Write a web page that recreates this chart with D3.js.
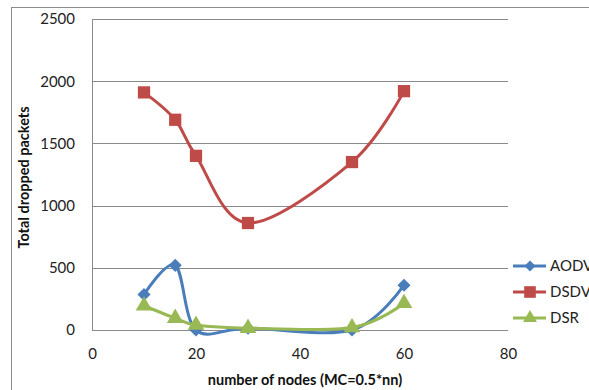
<!DOCTYPE html>
<html>
<head>
<meta charset="utf-8">
<script src="https://cdn.jsdelivr.net/npm/d3@7"></script>
<style>
  html, body { margin: 0; padding: 0; background: #fff; }
  svg { display: block; font-family: Lato, "Open Sans", sans-serif; }
</style>
</head>
<body>
<svg id="chart" width="589" height="390"></svg>
<script>
// Number of nodes on the x axis
const nodes = [10, 16, 20, 30, 50, 60];
// Total dropped packets per protocol
const aodv = [285, 520, 0, 15, 0, 360];
const dsdv = [1910, 1690, 1400, 860, 1350, 1920];
const dsr  = [195, 95, 40, 15, 20, 215];
const seriesNames = ["AODV", "DSDV", "DSR"];
const xTicks = [0, 20, 40, 60, 80];
const yTicks = [0, 500, 1000, 1500, 2000, 2500];

const colors = { AODV: "#4A7EBB", DSDV: "#BE4B48", DSR: "#98B954" };
const symbols = { AODV: d3.symbolDiamond2, DSDV: d3.symbolSquare, DSR: d3.symbolTriangle };
const symSize = { AODV: 110, DSDV: 150, DSR: 120 };

const svg = d3.select("#chart");

// Chart frame
svg.append("rect")
  .attr("x", 11.5).attr("y", 7.5)
  .attr("width", 600).attr("height", 400)
  .attr("fill", "none").attr("stroke", "#8c8c8c").attr("stroke-width", 1);

const x = d3.scaleLinear().domain([0, 80]).range([92, 508]);
const y = d3.scaleLinear().domain([0, 2500]).range([330, 19]);

// Horizontal gridlines
svg.append("g")
  .selectAll("line")
  .data(yTicks)
  .join("line")
  .attr("x1", x(0)).attr("x2", x(80))
  .attr("y1", d => Math.round(y(d)) + 0.5).attr("y2", d => Math.round(y(d)) + 0.5)
  .attr("stroke", "#8a8a8a").attr("stroke-width", 1);

// Y axis line
svg.append("line")
  .attr("x1", x(0) + 0.5).attr("x2", x(0) + 0.5)
  .attr("y1", y(2500)).attr("y2", y(0))
  .attr("stroke", "#8a8a8a");

// Y tick labels
const yAxis = d3.axisLeft(y).tickValues(yTicks).tickSize(0).tickPadding(17).tickFormat(d3.format("d"));
svg.append("g")
  .attr("transform", `translate(${x(0)},0)`)
  .call(yAxis)
  .call(g => g.select(".domain").remove())
  .selectAll("text")
  .attr("font-family", "Lato, 'Open Sans', sans-serif")
  .attr("font-size", 15).attr("fill", "#222");

// X tick labels
const xAxis = d3.axisBottom(x).tickValues(xTicks).tickSize(0).tickPadding(18).tickFormat(d3.format("d"));
svg.append("g")
  .attr("transform", `translate(0,${y(0)})`)
  .call(xAxis)
  .call(g => g.select(".domain").remove())
  .selectAll("text")
  .attr("font-family", "Lato, 'Open Sans', sans-serif")
  .attr("font-size", 15).attr("fill", "#222");

// Axis titles
svg.append("text")
  .attr("transform", `translate(29,${(y(0) + y(2500)) / 2 + 3}) rotate(-90)`)
  .attr("text-anchor", "middle")
  .attr("font-weight", "bold").attr("font-size", 14.5).attr("fill", "#111")
  .text("Total dropped packets");

svg.append("text")
  .attr("x", 305).attr("y", 385)
  .attr("text-anchor", "middle")
  .attr("font-weight", "bold").attr("font-size", 14.5).attr("fill", "#111")
  .text("number of nodes (MC=0.5*nn)");

// Series
const data = { AODV: aodv, DSDV: dsdv, DSR: dsr };
const line = d3.line()
  .x(d => x(d[0])).y(d => y(d[1]))
  .curve(d3.curveCardinal.tension(0));

const plot = svg.append("g");
["DSDV", "AODV", "DSR"].forEach(name => {
  const pts = nodes.map((n, i) => [n, data[name][i]]);
  plot.append("path")
    .datum(pts)
    .attr("d", line)
    .attr("fill", "none")
    .attr("stroke", colors[name]).attr("stroke-width", 3)
    .attr("stroke-linejoin", "round");
  plot.selectAll(null)
    .data(pts)
    .join("path")
    .attr("transform", d => `translate(${x(d[0])},${y(d[1])})`)
    .attr("d", d3.symbol().type(symbols[name]).size(symSize[name]))
    .attr("fill", colors[name]);
});

// Legend
const legend = svg.append("g");
const legendY = [266, 292, 318];
seriesNames.forEach((name, i) => {
  const g = legend.append("g").attr("transform", `translate(0,${legendY[i]})`);
  g.append("line")
    .attr("x1", 513).attr("x2", 546)
    .attr("stroke", colors[name]).attr("stroke-width", 3);
  g.append("path")
    .attr("transform", "translate(530,0)")
    .attr("d", d3.symbol().type(symbols[name]).size(symSize[name] * (name === "DSDV" ? 0.9 : 0.7)))
    .attr("fill", colors[name]);
  g.append("text")
    .attr("x", 550).attr("y", 5)
    .attr("font-size", 15).attr("fill", "#222")
    .text(name);
});
</script>
</body>
</html>
